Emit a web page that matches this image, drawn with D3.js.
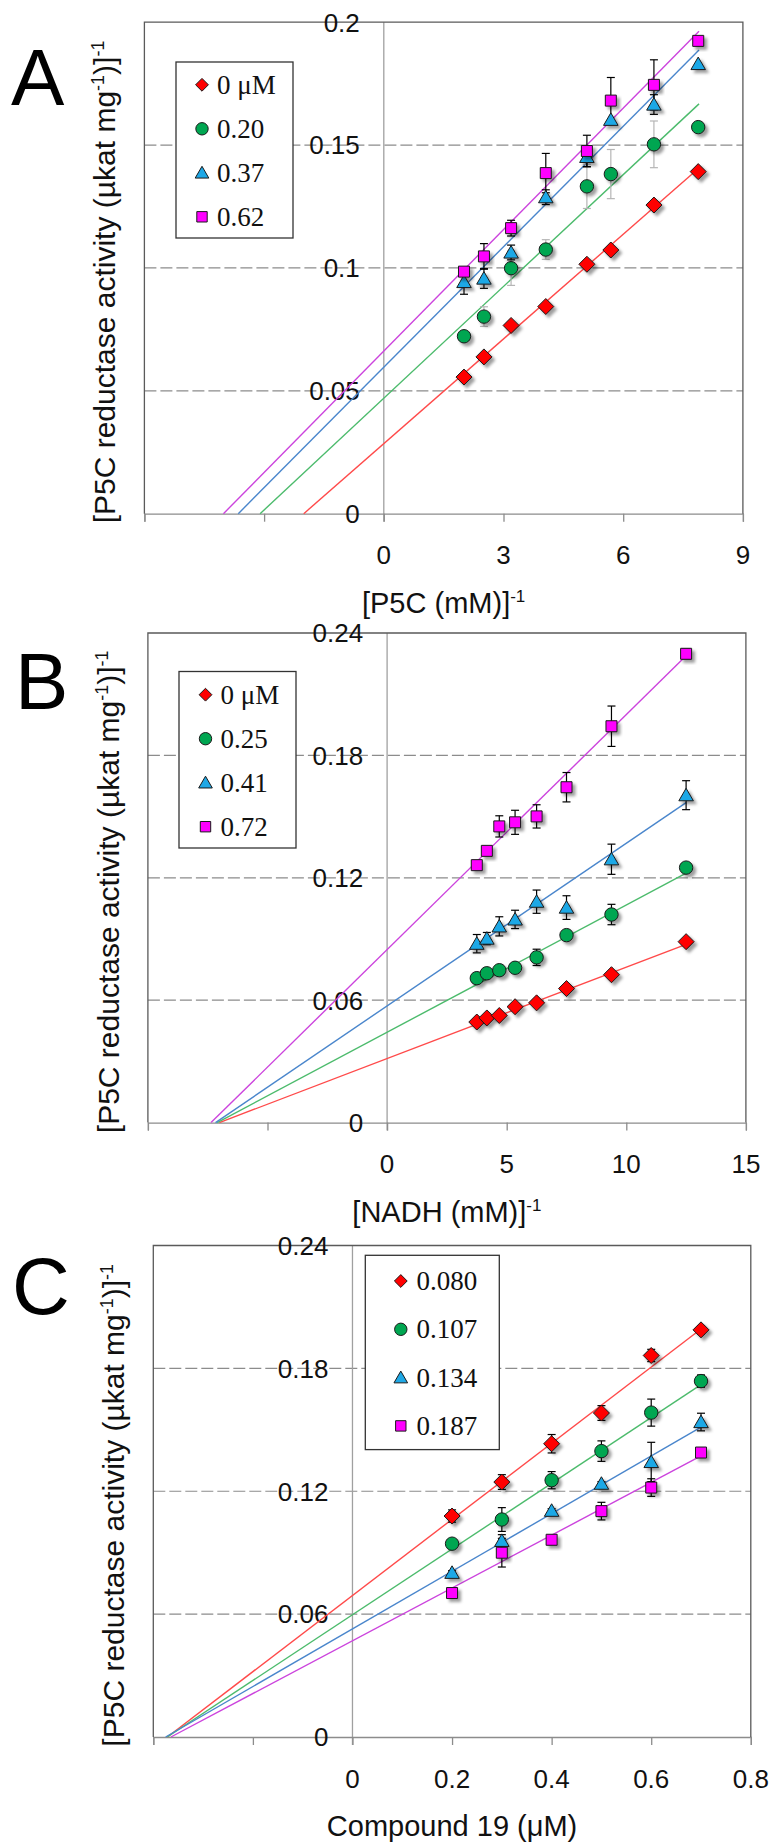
<!DOCTYPE html>
<html><head><meta charset="utf-8">
<script src="https://cdn.jsdelivr.net/npm/d3@7"></script>
<style>html,body{margin:0;padding:0;background:#fff}svg{display:block}</style>
</head><body>
<script>
// ---------- DATA ----------
const seriesColors = ["#ff0000", "#00a651", "#1fa8e6", "#ff00ff"];
const lineColors = ["#ff4a4a", "#4cbb6c", "#4a86cc", "#cc44dd"];
const seriesShapes = ["diamond", "circle", "triangle", "square"];

// Panel A
const aLegend = ["0 μM", "0.20", "0.37", "0.62"];
const aX = [2.01, 2.51, 3.19, 4.06, 5.09, 5.69, 6.77, 7.88];
const aY0 = [0.0556, 0.0638, 0.0766, 0.0843, 0.1015, 0.1073, 0.1256, 0.1392];
const aY1 = [0.0722, 0.0802, 0.0999, 0.1075, 0.1332, 0.1382, 0.1503, 0.1573];
const aY2 = [0.0943, 0.0957, 0.1063, 0.1288, 0.1452, 0.1603, 0.1665, 0.1830];
const aY3 = [0.0985, 0.1047, 0.1162, 0.1386, 0.1476, 0.1681, 0.1745, 0.1924];
const aE0 = [0, 0, 0, 0, 0, 0, 0, 0];
const aE1 = [0, 0.004, 0.007, 0.004, 0.009, 0.010, 0.0095, 0];
const aE2 = [0.005, 0.004, 0.003, 0.003, 0.004, 0, 0.004, 0];
const aE3 = [0, 0.0052, 0.0032, 0.008, 0.0064, 0.0094, 0.0102, 0];
const aErrColors = ["#000", "#b5b5b5", "#000", "#000"];
const aIntercepts = [0.0285, 0.047, 0.0596, 0.0662];
const aSlopes = [0.0142, 0.01516, 0.01634, 0.01647];
const aLineEnd = 7.9;
const aXTicks = [-6, -3, 0, 3, 6, 9];
const aXTickLabels = ["", "", "0", "3", "6", "9"];
const aYTicks = [0, 0.05, 0.1, 0.15, 0.2];
const aYTickLabels = ["0", "0.05", "0.1", "0.15", "0.2"];

// Panel B
const bLegend = ["0 μM", "0.25", "0.41", "0.72"];
const bX = [3.75, 4.17, 4.69, 5.35, 6.25, 7.5, 9.38, 12.5];
const bY0 = [0.0493, 0.0513, 0.0525, 0.0568, 0.0587, 0.0657, 0.0725, 0.0887];
const bY1 = [0.0708, 0.0732, 0.0747, 0.0759, 0.0810, 0.0919, 0.1020, 0.1250];
const bY2 = [0.0877, 0.0902, 0.0962, 0.0996, 0.1083, 0.1054, 0.1291, 0.1605];
const bY3 = [0.1262, 0.1332, 0.1452, 0.1472, 0.1501, 0.1644, 0.1943, 0.2298];
const bE0 = [0, 0, 0, 0, 0, 0, 0, 0];
const bE1 = [0.002, 0, 0, 0.002, 0.004, 0, 0.005, 0.002];
const bE2 = [0.0045, 0.003, 0.0047, 0.0045, 0.0057, 0.0058, 0.0074, 0.0071];
const bE3 = [0, 0.002, 0.0052, 0.0059, 0.0057, 0.0072, 0.0099, 0.0024];
const bErrColors = ["#000", "#000", "#000", "#000"];
const bIntercepts = [0.0314, 0.0443, 0.0572, 0.0848];
const bSlopes = [0.004478, 0.006237, 0.007975, 0.01152];
const bLineEnd = 12.5;
const bXTicks = [-10, -5, 0, 5, 10, 15];
const bXTickLabels = ["", "", "0", "5", "10", "15"];
const bYTicks = [0, 0.06, 0.12, 0.18, 0.24];
const bYTickLabels = ["0", "0.06", "0.12", "0.18", "0.24"];

// Panel C
const cLegend = ["0.080", "0.107", "0.134", "0.187"];
const cX = [0.2, 0.3, 0.4, 0.5, 0.6, 0.7];
const cY0 = [0.1079, 0.1245, 0.1432, 0.1582, 0.1863, 0.1988];
const cY1 = [0.0944, 0.1062, 0.1254, 0.1396, 0.1584, 0.1738];
const cY2 = [0.0802, 0.0958, 0.1105, 0.1237, 0.1343, 0.1538];
const cY3 = [0.0703, 0.0900, 0.0963, 0.1103, 0.1218, 0.1389];
const cE0 = [0.003, 0.0036, 0.0045, 0.0036, 0.003, 0.002];
const cE1 = [0.001, 0.0058, 0.0042, 0.005, 0.0066, 0.003];
const cE2 = [0.001, 0.003, 0.001, 0.001, 0.0096, 0.0043];
const cE3 = [0.001, 0.007, 0.001, 0.0043, 0.0043, 0.002];
const cErrColors = ["#000", "#000", "#000", "#000"];
const cIntercepts = [0.0691, 0.0597, 0.0528, 0.0470];
const cSlopes = [0.1859, 0.1605, 0.1407, 0.1289];
const cLineEnd = 0.7;
const cXTicks = [-0.4, -0.2, 0, 0.2, 0.4, 0.6, 0.8];
const cXTickLabels = ["", "", "0", "0.2", "0.4", "0.6", "0.8"];
const cYTicks = [0, 0.06, 0.12, 0.18, 0.24];
const cYTickLabels = ["0", "0.06", "0.12", "0.18", "0.24"];

const yTitleMain = "[P5C reductase activity (µkat mg";

// ---------- DRAW ----------
const svg = d3.select("body").append("svg").attr("width", 773).attr("height", 1842);
svg.append("rect").attr("width", 773).attr("height", 1842).attr("fill", "#fff");
const defs = svg.append("defs");
defs.append("filter").attr("id", "shadow").attr("x", "-50%").attr("y", "-50%").attr("width", "200%").attr("height", "200%")
  .append("feDropShadow").attr("dx", 3).attr("dy", 3).attr("stdDeviation", 1.6)
  .attr("flood-color", "#000").attr("flood-opacity", 0.38);

function shapePath(shape, s) {
  if (shape === "diamond") return `M0,${-s}L${s},0L0,${s}L${-s},0Z`;
  if (shape === "square") return `M${-s},${-s}H${s}V${s}H${-s}Z`;
  if (shape === "triangle") return `M0,${-s * 1.05}L${s * 1.1},${s * 0.85}L${-s * 1.1},${s * 0.85}Z`;
  return null;
}
function drawMarker(g, shape, color, x, y, size, shadow) {
  let el;
  if (shape === "circle") {
    el = g.append("circle").attr("cx", x).attr("cy", y).attr("r", size);
  } else {
    el = g.append("path").attr("d", shapePath(shape, size)).attr("transform", `translate(${x},${y})`);
  }
  el.attr("fill", color).attr("stroke", "#1a1a1a").attr("stroke-width", 1);
  if (shadow) el.attr("filter", "url(#shadow)");
}

function panel(cfg) {
  const g = svg.append("g");
  const x = d3.scaleLinear().domain(cfg.xDomain).range([cfg.left, cfg.right]);
  const y = d3.scaleLinear().domain(cfg.yDomain).range([cfg.bottom, cfg.top]);
  const x0 = x(0);

  // gridlines
  cfg.yTicks.forEach(t => {
    if (t === 0 || t === cfg.yDomain[1]) return;
    g.append("line").attr("x1", cfg.left).attr("x2", cfg.right).attr("y1", y(t)).attr("y2", y(t))
      .attr("stroke", "#8c8c8c").attr("stroke-width", 1.2).attr("stroke-dasharray", "12,4");
  });
  // y axis at x = 0
  g.append("line").attr("x1", x0).attr("x2", x0).attr("y1", cfg.top).attr("y2", cfg.bottom + 8)
    .attr("stroke", "#a0a0a0").attr("stroke-width", 1.3);
  // x axis with ticks
  const xAxis = d3.axisBottom(x).tickValues(cfg.xTicks).tickSize(8).tickFormat("");
  const ax = g.append("g").attr("transform", `translate(0,${cfg.bottom})`).call(xAxis);
  ax.select(".domain").attr("stroke", "#8c8c8c").attr("stroke-width", 1.3);
  ax.selectAll(".tick line").attr("stroke", "#8c8c8c").attr("stroke-width", 1.3);
  // plot border (top, left, right)
  g.append("path").attr("d", `M${cfg.left},${cfg.bottom}V${cfg.top}H${cfg.right}V${cfg.bottom}`)
    .attr("fill", "none").attr("stroke", "#5a5a5a").attr("stroke-width", 1.3);

  // y tick labels
  cfg.yTicks.forEach((t, i) => {
    g.append("text").attr("x", x0 - 24).attr("y", y(t)).attr("dy", "0.36em")
      .attr("text-anchor", "end").attr("font-family", "Liberation Sans, Arial, sans-serif")
      .attr("font-size", 26).attr("fill", "#111").text(cfg.yTickLabels[i]);
  });
  // x tick labels
  cfg.xTicks.forEach((t, i) => {
    if (!cfg.xTickLabels[i]) return;
    g.append("text").attr("x", x(t)).attr("y", cfg.bottom + 50.5)
      .attr("text-anchor", "middle").attr("font-family", "Liberation Sans, Arial, sans-serif")
      .attr("font-size", 26).attr("fill", "#111").text(cfg.xTickLabels[i]);
  });

  // regression lines
  cfg.intercepts.forEach((b, i) => {
    const m = cfg.slopes[i];
    const xs = -b / m;
    g.append("line").attr("x1", x(xs)).attr("y1", y(0)).attr("x2", x(cfg.lineEnd)).attr("y2", y(b + m * cfg.lineEnd))
      .attr("stroke", lineColors[i]).attr("stroke-width", 1.4);
  });

  // error bars
  cfg.ys.forEach((ys, si) => {
    ys.forEach((v, k) => {
      const e = cfg.errs[si][k];
      if (!e) return;
      const px = x(cfg.xs[k]);
      const col = cfg.errColors[si];
      g.append("line").attr("x1", px).attr("x2", px).attr("y1", y(v - e)).attr("y2", y(v + e))
        .attr("stroke", col).attr("stroke-width", 1.2);
      [v - e, v + e].forEach(w => g.append("line").attr("x1", px - 4).attr("x2", px + 4).attr("y1", y(w)).attr("y2", y(w))
        .attr("stroke", col).attr("stroke-width", 1.2));
    });
  });
  // markers
  const mSize = { diamond: 8, circle: 6.7, triangle: 6.6, square: 5.5 };
  cfg.ys.forEach((ys, si) => {
    ys.forEach((v, k) => drawMarker(g, seriesShapes[si], seriesColors[si], x(cfg.xs[k]), y(v), mSize[seriesShapes[si]], true));
  });

  // legend
  const L = cfg.legend;
  g.append("rect").attr("x", L.x).attr("y", L.y).attr("width", L.w).attr("height", L.h)
    .attr("fill", "#fff").attr("stroke", "#333").attr("stroke-width", 1.3);
  const lSize = { diamond: 6.4, circle: 6.2, triangle: 6.2, square: 5.2 };
  cfg.legendLabels.forEach((lab, i) => {
    const yy = L.row0 + i * L.step;
    drawMarker(g, seriesShapes[i], seriesColors[i], L.mx, yy, lSize[seriesShapes[i]], false);
    g.append("text").attr("x", L.tx).attr("y", yy).attr("dy", "0.34em")
      .attr("font-family", "Liberation Serif, Times New Roman, serif").attr("font-size", 27)
      .attr("fill", "#111").text(lab);
  });

  // panel letter
  g.append("text").attr("x", cfg.letterX).attr("y", cfg.letterY).attr("font-family", "Liberation Sans, Arial, sans-serif")
    .attr("font-size", 80).attr("fill", "#000").text(cfg.letter);

  // x title
  const xt = g.append("text").attr("x", (cfg.left + cfg.right) / 2).attr("y", cfg.bottom + 99)
    .attr("text-anchor", "middle").attr("font-family", "Liberation Sans, Arial, sans-serif")
    .attr("font-size", 29).attr("fill", "#111");
  xt.append("tspan").text(cfg.xTitle);
  if (cfg.xTitleSup) xt.append("tspan").attr("dy", -11).attr("font-size", 17).text(cfg.xTitleSup);

  // y title
  const yt = g.append("text").attr("transform", `translate(${cfg.left - 29},${(cfg.top + cfg.bottom) / 2 + 14}) rotate(-90)`)
    .attr("text-anchor", "middle").attr("font-family", "Liberation Sans, Arial, sans-serif")
    .attr("font-size", 30).attr("fill", "#111");
  yt.append("tspan").text(yTitleMain);
  yt.append("tspan").attr("dy", -11).attr("font-size", 18).text("-1");
  yt.append("tspan").attr("dy", 11).text(")]");
  yt.append("tspan").attr("dy", -11).attr("font-size", 18).text("-1");
}

panel({
  left: 144.4, right: 742.9, top: 22.2, bottom: 513.7,
  xDomain: [-6, 9], yDomain: [0, 0.2],
  xTicks: aXTicks, xTickLabels: aXTickLabels, yTicks: aYTicks, yTickLabels: aYTickLabels,
  xs: aX, ys: [aY0, aY1, aY2, aY3], errs: [aE0, aE1, aE2, aE3], errColors: aErrColors,
  intercepts: aIntercepts, slopes: aSlopes, lineEnd: aLineEnd,
  legendLabels: aLegend,
  legend: { x: 176, y: 62, w: 117, h: 176, row0: 84.8, step: 44, mx: 202, tx: 217 },
  letter: "A", letterX: 11, letterY: 104.5,
  xTitle: "[P5C (mM)]", xTitleSup: "-1"
});
panel({
  left: 147.9, right: 745.9, top: 633, bottom: 1122.6,
  xDomain: [-10, 15], yDomain: [0, 0.24],
  xTicks: bXTicks, xTickLabels: bXTickLabels, yTicks: bYTicks, yTickLabels: bYTickLabels,
  xs: bX, ys: [bY0, bY1, bY2, bY3], errs: [bE0, bE1, bE2, bE3], errColors: bErrColors,
  intercepts: bIntercepts, slopes: bSlopes, lineEnd: bLineEnd,
  legendLabels: bLegend,
  legend: { x: 179, y: 671.5, w: 117, h: 176.5, row0: 694.7, step: 44, mx: 205.5, tx: 220.5 },
  letter: "B", letterX: 15, letterY: 708.5,
  xTitle: "[NADH (mM)]", xTitleSup: "-1"
});
panel({
  left: 153.3, right: 750.8, top: 1245.5, bottom: 1737,
  xDomain: [-0.4, 0.8], yDomain: [0, 0.24],
  xTicks: cXTicks, xTickLabels: cXTickLabels, yTicks: cYTicks, yTickLabels: cYTickLabels,
  xs: cX, ys: [cY0, cY1, cY2, cY3], errs: [cE0, cE1, cE2, cE3], errColors: cErrColors,
  intercepts: cIntercepts, slopes: cSlopes, lineEnd: cLineEnd,
  legendLabels: cLegend,
  legend: { x: 365.3, y: 1255.3, w: 134, h: 194.3, row0: 1281, step: 48.3, mx: 400.8, tx: 416.6 },
  letter: "C", letterX: 12, letterY: 1314,
  xTitle: "Compound 19 (μM)", xTitleSup: ""
});
</script>
</body></html>
